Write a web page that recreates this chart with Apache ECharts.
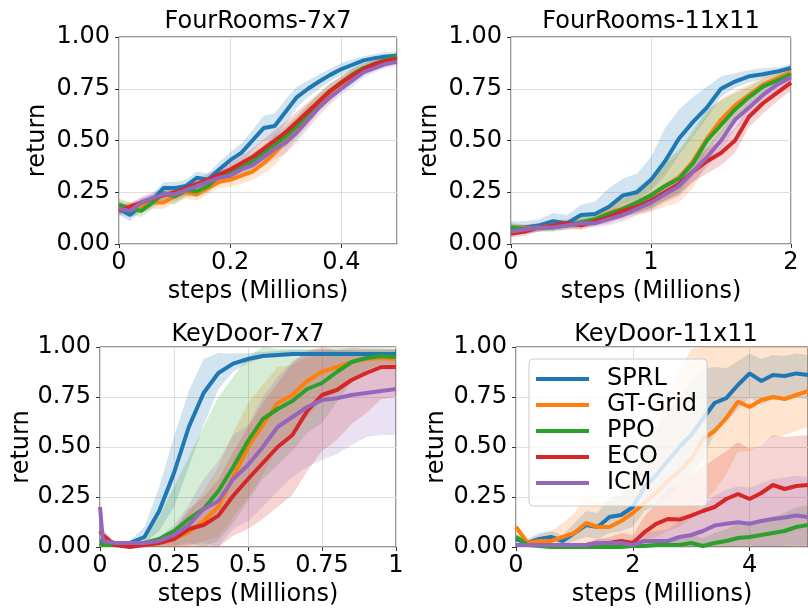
<!DOCTYPE html>
<html>
<head>
<meta charset="utf-8">
<script src="https://cdn.jsdelivr.net/npm/echarts@6/dist/echarts.min.js"></script>
<style>
  html, body { margin: 0; padding: 0; background: #fff; overflow: hidden; }
  #chart { width: 808px; height: 608px; }
</style>
</head>
<body>
<div id="chart"></div>
<script>
// ---------------- data ----------------
const methods = ['SPRL', 'GT-Grid', 'PPO', 'ECO', 'ICM'];
const titles = ['FourRooms-7x7', 'FourRooms-11x11', 'KeyDoor-7x7', 'KeyDoor-11x11'];
const yTicks = [0, 0.25, 0.5, 0.75, 1];
const xAxisLabel = 'steps (Millions)';
const yAxisLabel = 'return';

// Panel 1: FourRooms-7x7
const p1_steps = [0,0.02,0.04,0.06,0.08,0.1,0.12,0.14,0.16,0.18,0.2,0.22,0.24,0.26,0.28,0.3,0.32,0.34,0.36,0.38,0.4,0.42,0.44,0.46,0.48,0.5];
const p1_sprl = [0.17,0.14,0.19,0.21,0.27,0.27,0.28,0.32,0.31,0.36,0.405,0.44,0.50,0.56,0.57,0.64,0.71,0.75,0.785,0.817,0.845,0.866,0.887,0.898,0.906,0.909];
const p1_gt   = [0.18,0.17,0.18,0.20,0.20,0.23,0.25,0.24,0.27,0.30,0.31,0.33,0.35,0.39,0.44,0.50,0.56,0.62,0.68,0.72,0.77,0.81,0.84,0.86,0.88,0.89];
const p1_ppo  = [0.19,0.17,0.16,0.20,0.245,0.23,0.26,0.255,0.28,0.33,0.34,0.37,0.40,0.44,0.48,0.52,0.57,0.63,0.69,0.74,0.78,0.82,0.85,0.87,0.89,0.905];
const p1_eco  = [0.16,0.18,0.20,0.22,0.235,0.25,0.27,0.29,0.31,0.335,0.36,0.39,0.42,0.46,0.50,0.54,0.59,0.64,0.69,0.74,0.78,0.815,0.845,0.87,0.885,0.895];
const p1_icm  = [0.17,0.16,0.20,0.22,0.24,0.24,0.26,0.28,0.30,0.32,0.33,0.36,0.38,0.42,0.46,0.49,0.54,0.60,0.66,0.71,0.75,0.79,0.83,0.85,0.87,0.88];
const p1_sprl_sd = [0.03,0.03,0.03,0.03,0.03,0.03,0.03,0.03,0.03,0.035,0.04,0.045,0.05,0.06,0.06,0.06,0.05,0.04,0.035,0.03,0.03,0.025,0.02,0.02,0.02,0.02];
const p1_gt_sd   = [0.03,0.03,0.03,0.03,0.03,0.03,0.03,0.03,0.03,0.03,0.035,0.04,0.04,0.05,0.06,0.06,0.05,0.05,0.04,0.035,0.03,0.03,0.025,0.02,0.02,0.02];
const p1_ppo_sd  = [0.03,0.03,0.03,0.03,0.04,0.04,0.03,0.03,0.03,0.03,0.03,0.035,0.04,0.04,0.045,0.05,0.05,0.045,0.04,0.035,0.03,0.03,0.025,0.02,0.02,0.02];
const p1_eco_sd  = [0.02,0.02,0.02,0.02,0.02,0.02,0.02,0.025,0.03,0.03,0.03,0.035,0.04,0.045,0.05,0.05,0.05,0.045,0.04,0.035,0.03,0.03,0.025,0.02,0.02,0.02];
const p1_icm_sd  = [0.03,0.03,0.03,0.03,0.03,0.03,0.03,0.03,0.03,0.03,0.03,0.035,0.04,0.045,0.05,0.05,0.05,0.045,0.04,0.035,0.03,0.03,0.025,0.02,0.02,0.02];

// Panel 2: FourRooms-11x11
const p2_steps = [0,0.1,0.2,0.3,0.4,0.5,0.6,0.7,0.8,0.9,1.0,1.1,1.2,1.3,1.4,1.5,1.6,1.7,1.8,1.9,2.0];
const p2_sprl = [0.08,0.08,0.09,0.11,0.10,0.14,0.145,0.18,0.235,0.25,0.31,0.40,0.51,0.59,0.66,0.75,0.785,0.81,0.82,0.833,0.85];
const p2_gt   = [0.08,0.075,0.08,0.09,0.09,0.10,0.12,0.15,0.17,0.20,0.235,0.28,0.32,0.40,0.51,0.60,0.67,0.72,0.77,0.80,0.83];
const p2_ppo  = [0.08,0.07,0.08,0.08,0.09,0.105,0.12,0.146,0.17,0.20,0.235,0.28,0.315,0.39,0.50,0.575,0.65,0.71,0.76,0.79,0.82];
const p2_eco  = [0.05,0.06,0.08,0.09,0.10,0.09,0.11,0.13,0.16,0.18,0.21,0.25,0.29,0.35,0.40,0.44,0.50,0.615,0.68,0.73,0.78];
const p2_icm  = [0.06,0.07,0.08,0.08,0.09,0.10,0.10,0.12,0.14,0.17,0.20,0.24,0.28,0.35,0.42,0.50,0.60,0.66,0.72,0.77,0.806];
const p2_sprl_up = [0.03,0.03,0.03,0.04,0.04,0.05,0.06,0.09,0.08,0.09,0.11,0.16,0.14,0.12,0.10,0.06,0.04,0.03,0.03,0.02,0.02];
const p2_sprl_dn = [0.02,0.02,0.02,0.02,0.02,0.03,0.03,0.03,0.04,0.04,0.05,0.07,0.08,0.07,0.05,0.04,0.03,0.03,0.02,0.02,0.02];
const p2_gt_sd   = [0.02,0.02,0.02,0.02,0.02,0.03,0.03,0.04,0.05,0.06,0.08,0.10,0.12,0.13,0.12,0.10,0.07,0.05,0.04,0.03,0.03];
const p2_ppo_up  = [0.02,0.02,0.02,0.02,0.02,0.03,0.03,0.04,0.05,0.07,0.09,0.12,0.14,0.16,0.15,0.12,0.08,0.05,0.04,0.03,0.03];
const p2_ppo_dn  = [0.02,0.02,0.02,0.02,0.02,0.02,0.03,0.03,0.04,0.05,0.06,0.07,0.07,0.06,0.05,0.05,0.04,0.04,0.03,0.03,0.03];
const p2_eco_sd  = [0.02,0.02,0.02,0.02,0.02,0.02,0.02,0.03,0.03,0.03,0.04,0.04,0.05,0.05,0.06,0.06,0.06,0.05,0.05,0.04,0.04];
const p2_icm_sd  = [0.02,0.02,0.02,0.02,0.02,0.02,0.02,0.03,0.03,0.03,0.04,0.04,0.05,0.05,0.05,0.05,0.05,0.04,0.04,0.03,0.03];

// Panel 3: KeyDoor-7x7
const p3_steps = [0,0.01,0.05,0.1,0.15,0.2,0.25,0.3,0.35,0.4,0.45,0.5,0.55,0.6,0.65,0.7,0.75,0.8,0.85,0.9,0.95,1.0];
const p3_sprl = [0.03,0.03,0.02,0.02,0.05,0.18,0.37,0.60,0.77,0.87,0.917,0.94,0.955,0.96,0.965,0.965,0.965,0.965,0.965,0.965,0.965,0.965];
const p3_gt   = [0.01,0.01,0.01,0.01,0.01,0.02,0.04,0.074,0.13,0.20,0.35,0.50,0.61,0.72,0.76,0.83,0.876,0.90,0.926,0.94,0.945,0.94];
const p3_ppo  = [0.02,0.01,0.01,0.01,0.02,0.04,0.08,0.14,0.19,0.28,0.40,0.53,0.64,0.69,0.73,0.79,0.82,0.875,0.925,0.945,0.955,0.95];
const p3_eco  = [0.08,0.06,0.01,0.0,0.01,0.02,0.04,0.09,0.11,0.157,0.256,0.34,0.42,0.50,0.56,0.68,0.76,0.785,0.835,0.87,0.90,0.90];
const p3_icm  = [0.20,0.03,0.02,0.02,0.02,0.03,0.06,0.11,0.19,0.23,0.34,0.41,0.50,0.60,0.65,0.70,0.735,0.744,0.76,0.77,0.78,0.79];
const p3_sprl_up = [0.01,0.01,0.01,0.01,0.05,0.12,0.18,0.18,0.17,0.10,0.05,0.03,0.02,0.02,0.02,0.02,0.02,0.02,0.02,0.02,0.02,0.02];
const p3_sprl_dn = [0.01,0.01,0.01,0.01,0.03,0.10,0.17,0.20,0.16,0.08,0.04,0.02,0.01,0.01,0.01,0.01,0.01,0.01,0.01,0.01,0.01,0.01];
const p3_gt_up   = [0.01,0.01,0.01,0.01,0.01,0.02,0.05,0.10,0.15,0.20,0.22,0.22,0.20,0.18,0.15,0.12,0.08,0.06,0.04,0.03,0.03,0.03];
const p3_gt_dn   = [0.01,0.01,0.01,0.01,0.01,0.02,0.04,0.07,0.10,0.15,0.20,0.25,0.25,0.22,0.20,0.18,0.15,0.12,0.10,0.08,0.06,0.05];
const p3_ppo_up  = [0.02,0.01,0.01,0.01,0.03,0.11,0.22,0.31,0.41,0.47,0.45,0.42,0.36,0.30,0.26,0.20,0.17,0.12,0.07,0.05,0.04,0.04];
const p3_ppo_dn  = [0.02,0.01,0.01,0.01,0.02,0.04,0.08,0.12,0.19,0.25,0.28,0.30,0.30,0.28,0.25,0.22,0.20,0.15,0.10,0.06,0.04,0.04];
const p3_eco_up  = [0.03,0.03,0.01,0.01,0.02,0.03,0.05,0.10,0.14,0.18,0.22,0.26,0.30,0.32,0.36,0.30,0.24,0.20,0.16,0.12,0.09,0.09];
const p3_eco_dn  = [0.03,0.03,0.01,0.0,0.01,0.02,0.04,0.09,0.11,0.157,0.20,0.25,0.28,0.30,0.30,0.30,0.28,0.25,0.22,0.20,0.16,0.15];
const p3_icm_up  = [0.02,0.02,0.01,0.01,0.01,0.02,0.05,0.10,0.15,0.20,0.22,0.20,0.25,0.25,0.28,0.27,0.25,0.24,0.22,0.20,0.18,0.17];
const p3_icm_dn  = [0.02,0.02,0.01,0.01,0.01,0.02,0.05,0.10,0.17,0.23,0.25,0.28,0.30,0.32,0.30,0.30,0.30,0.28,0.25,0.22,0.22,0.23];

// Panel 4: KeyDoor-11x11
const p4_steps = [0,0.2,0.4,0.6,0.8,1.0,1.2,1.4,1.6,1.8,2.0,2.2,2.4,2.6,2.8,3.0,3.2,3.4,3.6,3.8,4.0,4.2,4.4,4.6,4.8,5.0];
const p4_sprl = [0.04,0.02,0.04,0.05,0.03,0.07,0.11,0.10,0.15,0.16,0.20,0.30,0.36,0.43,0.50,0.56,0.64,0.72,0.744,0.81,0.868,0.83,0.86,0.855,0.868,0.86];
const p4_gt   = [0.10,0.02,0.03,0.03,0.05,0.07,0.12,0.10,0.10,0.13,0.17,0.22,0.27,0.33,0.38,0.44,0.54,0.58,0.645,0.727,0.70,0.735,0.75,0.74,0.76,0.78];
const p4_ppo  = [0.05,0.01,0.005,0.0,0.0,0.0,0.0,0.0,0.0,0.0,0.005,0.005,0.01,0.01,0.01,0.02,0.005,0.02,0.03,0.045,0.05,0.06,0.07,0.08,0.10,0.11];
const p4_eco  = [0.01,0.01,0.01,0.01,0.01,0.01,0.01,0.02,0.02,0.03,0.02,0.074,0.116,0.14,0.137,0.157,0.18,0.20,0.24,0.265,0.24,0.27,0.31,0.29,0.305,0.31];
const p4_icm  = [0.01,0.01,0.01,0.01,0.01,0.01,0.01,0.02,0.02,0.02,0.01,0.03,0.03,0.03,0.05,0.06,0.08,0.107,0.116,0.124,0.116,0.13,0.14,0.148,0.157,0.15];
const p4_sprl_up = [0.02,0.02,0.03,0.03,0.03,0.05,0.07,0.07,0.10,0.10,0.15,0.20,0.22,0.25,0.25,0.27,0.25,0.18,0.15,0.12,0.10,0.11,0.10,0.10,0.10,0.10];
const p4_sprl_dn = [0.02,0.02,0.02,0.02,0.02,0.04,0.06,0.06,0.08,0.08,0.10,0.12,0.15,0.18,0.20,0.20,0.20,0.15,0.12,0.12,0.12,0.12,0.12,0.12,0.12,0.12];
const p4_gt_up   = [0.02,0.02,0.03,0.05,0.07,0.10,0.14,0.12,0.13,0.15,0.20,0.28,0.35,0.42,0.50,0.55,0.50,0.45,0.40,0.30,0.30,0.28,0.25,0.26,0.24,0.22];
const p4_gt_dn   = [0.02,0.02,0.03,0.03,0.05,0.07,0.10,0.10,0.10,0.12,0.15,0.18,0.22,0.25,0.28,0.30,0.32,0.30,0.28,0.25,0.22,0.22,0.20,0.18,0.18,0.18];
const p4_ppo_sd  = [0.02,0.01,0.01,0.01,0.01,0.01,0.01,0.01,0.01,0.01,0.02,0.02,0.03,0.03,0.03,0.04,0.04,0.05,0.06,0.07,0.07,0.08,0.08,0.09,0.10,0.10];
const p4_eco_up  = [0.01,0.01,0.01,0.01,0.01,0.01,0.01,0.02,0.03,0.04,0.04,0.08,0.10,0.15,0.18,0.20,0.22,0.24,0.24,0.26,0.25,0.24,0.25,0.26,0.25,0.25];
const p4_eco_dn  = [0.01,0.01,0.01,0.01,0.01,0.01,0.01,0.02,0.02,0.03,0.02,0.07,0.10,0.12,0.13,0.15,0.17,0.20,0.24,0.26,0.24,0.27,0.31,0.29,0.30,0.31];
const p4_icm_up  = [0.01,0.01,0.01,0.01,0.01,0.01,0.01,0.02,0.02,0.02,0.02,0.04,0.05,0.06,0.08,0.10,0.12,0.15,0.17,0.18,0.18,0.19,0.20,0.20,0.20,0.20];
const p4_icm_dn  = [0.01,0.01,0.01,0.01,0.01,0.01,0.01,0.02,0.02,0.02,0.01,0.03,0.03,0.03,0.05,0.06,0.08,0.10,0.11,0.12,0.11,0.13,0.14,0.14,0.15,0.15];

// ---------------- styling / layout ----------------
const COLORS = ['#1f77b4', '#ff7f0e', '#2ca02c', '#d62728', '#9467bd'];
const FONT = 'DejaVu Sans';
const FS = 24;

const panels = [
  { title: titles[0], steps: p1_steps,
    series: [[p1_sprl, p1_sprl_sd, p1_sprl_sd], [p1_gt, p1_gt_sd, p1_gt_sd], [p1_ppo, p1_ppo_sd, p1_ppo_sd], [p1_eco, p1_eco_sd, p1_eco_sd], [p1_icm, p1_icm_sd, p1_icm_sd]],
    xMax: 0.5, xInt: 0.2, showMax: false,
    grid: { left: 119, top: 37, width: 278, height: 207 }, titleX: 258, titleTop: 10, yGap: 69 },
  { title: titles[1], steps: p2_steps,
    series: [[p2_sprl, p2_sprl_up, p2_sprl_dn], [p2_gt, p2_gt_sd, p2_gt_sd], [p2_ppo, p2_ppo_up, p2_ppo_dn], [p2_eco, p2_eco_sd, p2_eco_sd], [p2_icm, p2_icm_sd, p2_icm_sd]],
    xMax: 2, xInt: 1, showMax: true,
    grid: { left: 511, top: 37, width: 280, height: 207 }, titleX: 651, titleTop: 10, yGap: 69 },
  { title: titles[2], steps: p3_steps,
    series: [[p3_sprl, p3_sprl_up, p3_sprl_dn], [p3_gt, p3_gt_up, p3_gt_dn], [p3_ppo, p3_ppo_up, p3_ppo_dn], [p3_eco, p3_eco_up, p3_eco_dn], [p3_icm, p3_icm_up, p3_icm_dn]],
    xMax: 1, xInt: 0.25, showMax: true,
    grid: { left: 100, top: 347, width: 296, height: 202 }, titleX: 248, titleTop: 323, yGap: 50 },
  { title: titles[3], steps: p4_steps,
    series: [[p4_sprl, p4_sprl_up, p4_sprl_dn], [p4_gt, p4_gt_up, p4_gt_dn], [p4_ppo, p4_ppo_sd, p4_ppo_sd], [p4_eco, p4_eco_up, p4_eco_dn], [p4_icm, p4_icm_up, p4_icm_dn]],
    xMax: 5, xInt: 2, showMax: false,
    grid: { left: 516, top: 347, width: 300, height: 202 }, titleX: 666, titleTop: 323, yGap: 67 }
];

const clamp = v => Math.max(0, Math.min(1, v));
const txt = { fontFamily: FONT, fontSize: FS, color: '#000' };

const option = {
  animation: false,
  backgroundColor: '#fff',
  title: [], grid: [], xAxis: [], yAxis: [], series: [],
  legend: {
    data: methods,
    orient: 'vertical',
    left: 529, top: 359,
    icon: 'rect', itemWidth: 53, itemHeight: 4, itemGap: 2,
    selectedMode: false,
    backgroundColor: 'rgba(255,255,255,0.8)',
    borderColor: '#cccccc', borderWidth: 1, borderRadius: 4,
    padding: [8, 10, 11, 7],
    textStyle: Object.assign({}, txt, { lineHeight: 24, padding: [0, 0, 0, 13] }),
    z: 20
  }
};

panels.forEach((p, pi) => {
  option.title.push({
    text: p.title, left: p.titleX, top: p.titleTop, textAlign: 'center', padding: 0,
    textStyle: Object.assign({}, txt, { fontWeight: 'normal' })
  });
  option.grid.push(Object.assign({ show: true, borderColor: '#333', borderWidth: 1, backgroundColor: 'transparent', containLabel: false }, p.grid));
  option.xAxis.push({
    type: 'value', gridIndex: pi, min: 0, max: p.xMax, interval: p.xInt,
    name: xAxisLabel, nameLocation: 'middle', nameGap: 36, nameTextStyle: txt,
    axisLine: { show: false },
    axisTick: { show: true, length: 4, lineStyle: { color: '#333' } },
    axisLabel: Object.assign({}, txt, { margin: 7, showMaxLabel: p.showMax, interval: 0 }),
    splitLine: { show: true, lineStyle: { color: '#dddddd', width: 1 } }
  });
  option.yAxis.push({
    type: 'value', gridIndex: pi, min: 0, max: 1, interval: 0.25,
    name: yAxisLabel, nameLocation: 'middle', nameGap: p.yGap, nameTextStyle: txt,
    axisLine: { show: false },
    axisTick: { show: true, length: 4, lineStyle: { color: '#333' } },
    axisLabel: Object.assign({}, txt, { margin: 9, formatter: v => v.toFixed(2) }),
    splitLine: { show: true, lineStyle: { color: '#dddddd', width: 1 } }
  });
  // shaded bands (polygon between lower and upper bound, placed through the axes' scales)
  p.series.forEach((s, mi) => {
    const [mean, up, dn] = s;
    const lo = mean.map((v, i) => clamp(v - dn[i]));
    const hi = mean.map((v, i) => clamp(v + up[i]));
    const steps = p.steps;
    option.series.push({
      type: 'custom', name: '_band', xAxisIndex: pi, yAxisIndex: pi, silent: true, z: 1,
      data: [[steps[0], lo[0]]],
      encode: { x: 0, y: 1 },
      clip: true,
      renderItem: (params, api) => {
        const pts = [];
        for (let i = 0; i < steps.length; i++) pts.push(api.coord([steps[i], hi[i]]));
        for (let i = steps.length - 1; i >= 0; i--) pts.push(api.coord([steps[i], lo[i]]));
        return { type: 'polygon', shape: { points: pts }, style: { fill: COLORS[mi], opacity: 0.2 } };
      }
    });
  });
  // mean lines
  p.series.forEach((s, mi) => {
    option.series.push({
      type: 'line', name: methods[mi], xAxisIndex: pi, yAxisIndex: pi,
      data: p.steps.map((x, i) => [x, s[0][i]]),
      symbol: 'none', showSymbol: false, color: COLORS[mi],
      lineStyle: { width: 4, color: COLORS[mi] }, z: 3
    });
  });
});

const chart = echarts.init(document.getElementById('chart'), null, { renderer: 'canvas' });
chart.setOption(option);
</script>
</body>
</html>
